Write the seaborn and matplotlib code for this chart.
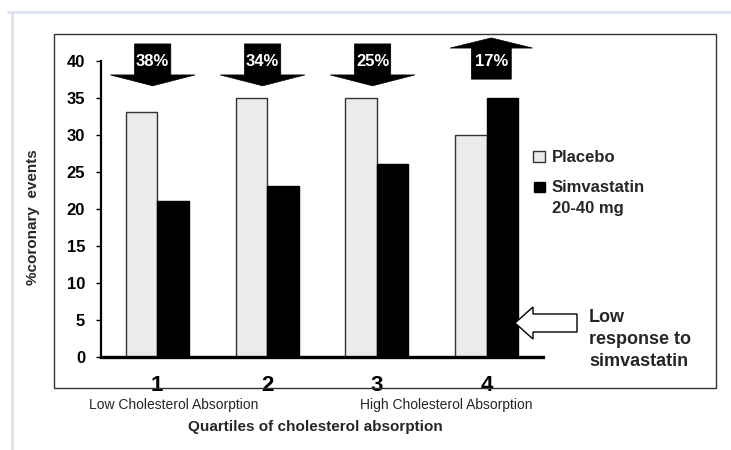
import matplotlib
matplotlib.use("Agg")
import matplotlib.pyplot as plt
from matplotlib.patches import Rectangle, Polygon
from matplotlib.lines import Line2D
import seaborn as sns
import pandas as pd

# Data
quartiles = ["1", "2", "3", "4"]
placebo = [33, 35, 35, 30]
simvastatin = [21, 23, 26, 35]
risk_change = ["38%", "34%", "25%", "17%"]
risk_direction = ["down", "down", "down", "up"]
group_names = ["Placebo", "Simvastatin\n20-40 mg"]
bar_colors = ["#ebebeb", "#000000"]
yticks = [0, 5, 10, 15, 20, 25, 30, 35, 40]

df = pd.DataFrame({
    "quartile": quartiles * 2,
    "pct": placebo + simvastatin,
    "group": [group_names[0]] * 4 + [group_names[1]] * 4,
})

sns.set_theme(style="white")
plt.rcParams["font.family"] = ["Liberation Sans", "DejaVu Sans"]

W, H = 731, 450
fig = plt.figure(figsize=(W / 100, H / 100), dpi=100)
fig.patch.set_facecolor("white")


def fx(x):
    return x / W


def fy(y):
    return 1 - y / H


# Light outer frame
fig.add_artist(Line2D([fx(8), 1], [fy(12), fy(12)], color="#dde2f1", lw=2.0))
fig.add_artist(Line2D([fx(12), fx(12)], [fy(12), 0], color="#dde2f1", lw=2.0))

# Inner dark box
fig.add_artist(Rectangle((fx(54), fy(388)), (716 - 54) / W, (388 - 34) / H,
                         transform=fig.transFigure, fill=False,
                         edgecolor="#333333", lw=1.0))

ax = fig.add_axes([fx(101), fy(356.7), (543 - 101) / W, (356.7 - 34) / H])
ax.patch.set_alpha(0)

sns.barplot(data=df, x="quartile", y="pct", hue="group",
            hue_order=group_names, palette=bar_colors, saturation=1,
            width=0.573, legend=False, ax=ax, linewidth=1.0)

for bar in ax.containers[0]:
    bar.set_edgecolor("#333333")
for bar in ax.containers[1]:
    bar.set_edgecolor("#000000")

ax.set_xlim(-0.51, 3.51)
ax.set_ylim(0, 43.6)
ax.set_xlabel("")
ax.set_ylabel("")

for s in ["top", "right"]:
    ax.spines[s].set_visible(False)
ax.spines["left"].set_bounds(0, 40)
ax.spines["left"].set_linewidth(1.6)
ax.spines["left"].set_color("black")
ax.spines["bottom"].set_linewidth(2.4)
ax.spines["bottom"].set_color("black")
ax.spines["bottom"].set_zorder(5)

ax.set_yticks(yticks)
ax.set_yticklabels([str(v) for v in yticks])
ax.tick_params(axis="y", direction="out", length=3.5, width=1.0,
               color="black", pad=8, left=True)
ax.tick_params(axis="x", length=0, pad=13)
for lab in ax.get_yticklabels():
    lab.set_fontsize(12)
    lab.set_fontweight("bold")
    lab.set_color("black")
for lab in ax.get_xticklabels():
    lab.set_fontsize(16)
    lab.set_fontweight("bold")
    lab.set_color("black")

# Block arrows with percentage change in risk
shaft_w, head_w = 0.33, 0.77
for i, (txt, d) in enumerate(zip(risk_change, risk_direction)):
    if d == "down":
        cx = i - 0.04
        top, base, tip = 42.26, 38.07, 36.6
        pts = [(cx - shaft_w / 2, top), (cx + shaft_w / 2, top),
               (cx + shaft_w / 2, base), (cx + head_w / 2, base),
               (cx, tip), (cx - head_w / 2, base), (cx - shaft_w / 2, base)]
    else:
        cx = i + 0.04
        bottom, base, tip = 37.5, 41.7, 43.07
        sw, hw = shaft_w * 1.1, 0.75
        pts = [(cx - sw / 2, bottom), (cx + sw / 2, bottom),
               (cx + sw / 2, base), (cx + hw / 2, base),
               (cx, tip), (cx - hw / 2, base), (cx - sw / 2, base)]
    ax.add_patch(Polygon(pts, closed=True, facecolor="black",
                         edgecolor="black", lw=0.5, clip_on=False, zorder=6))
    ax.text(cx, 39.86, txt, color="white", fontsize=12, fontweight="bold",
            ha="center", va="center", zorder=7, clip_on=False)

# Legend
fig.add_artist(Rectangle((fx(533), fy(162)), 12 / W, 11 / H,
                         transform=fig.transFigure, facecolor=bar_colors[0],
                         edgecolor="#333333", lw=1.0))
fig.add_artist(Rectangle((fx(534), fy(192)), 11 / W, 10 / H,
                         transform=fig.transFigure, facecolor=bar_colors[1],
                         edgecolor="black", lw=1.0))
fig.text(fx(552), fy(157), "Placebo", fontsize=12, fontweight="bold",
         ha="left", va="center")
fig.text(fx(552), fy(187), "Simvastatin", fontsize=12, fontweight="bold",
         ha="left", va="center")
fig.text(fx(552), fy(208), "20-40 mg", fontsize=12, fontweight="bold",
         ha="left", va="center")

# Hollow arrow with note
arrow_px = [(515, 323), (533, 307), (533, 314), (577, 314),
            (577, 332), (533, 332), (533, 339)]
fig.add_artist(Polygon([(fx(x), fy(y)) for x, y in arrow_px], closed=True,
                       transform=fig.transFigure, facecolor="white",
                       edgecolor="black", lw=1.0))
fig.text(fx(589), fy(317), "Low", fontsize=13, fontweight="bold",
         ha="left", va="center")
fig.text(fx(589), fy(339), "response to", fontsize=13, fontweight="bold",
         ha="left", va="center")
fig.text(fx(589), fy(362), "simvastatin", fontsize=13, fontweight="bold",
         ha="left", va="center")

# Axis titles
fig.text(fx(33), fy(217), "%coronary  events", rotation=90, fontsize=11,
         fontweight="bold", ha="center", va="center")
fig.text(fx(174), fy(405), "Low Cholesterol Absorption", fontsize=10,
         ha="center", va="center")
fig.text(fx(446), fy(405), "High Cholesterol Absorption", fontsize=10,
         ha="center", va="center")
fig.text(fx(315), fy(427), "Quartiles of cholesterol absorption", fontsize=11,
         fontweight="bold", ha="center", va="center")

fig.savefig("out.png", dpi=100)
